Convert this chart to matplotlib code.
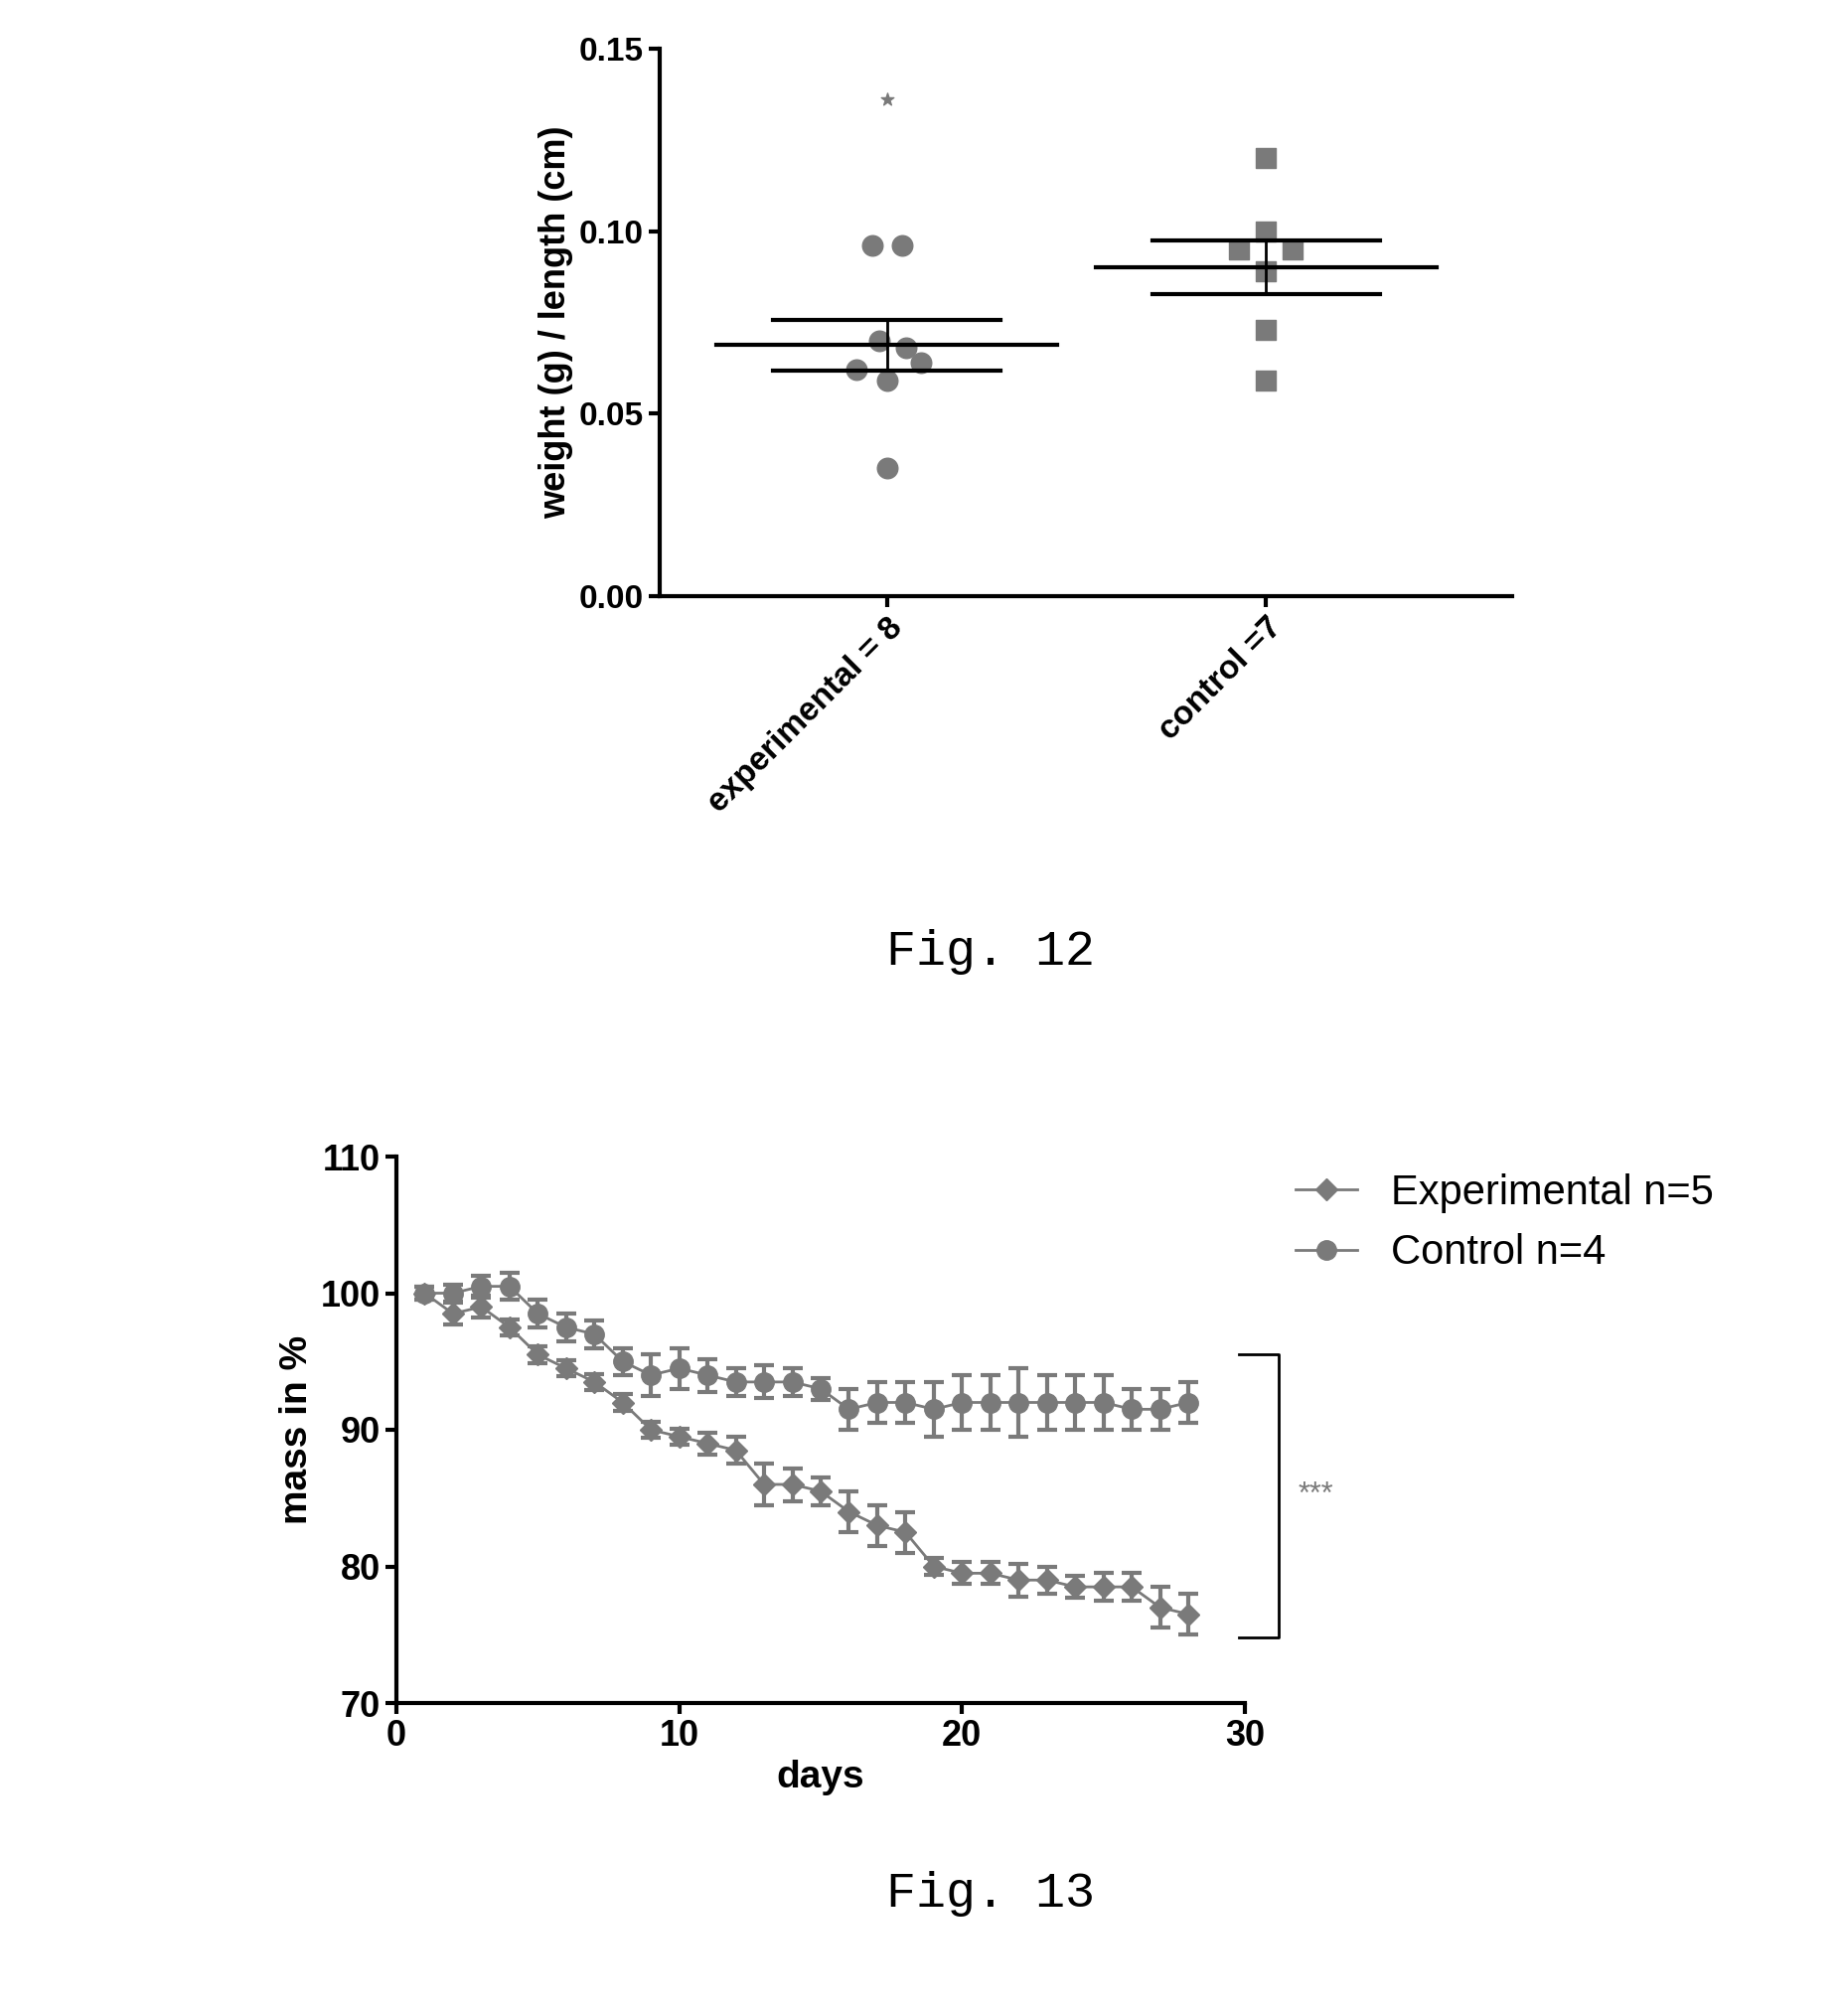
import matplotlib
matplotlib.use("Agg")
import matplotlib.pyplot as plt
from matplotlib.lines import Line2D
import numpy as np

plt.rcParams['font.family'] = ['Liberation Sans', 'DejaVu Sans']

exp_vals = [0.096, 0.096, 0.070, 0.068, 0.064, 0.062, 0.059, 0.035]
exp_outlier = [0.136]
ctl_vals = [0.120, 0.100, 0.095, 0.095, 0.089, 0.073, 0.059]
groups = ["experimental = 8", "control =7"]

days = list(range(1, 29))
exp_mass = [100, 98.5, 99, 97.5, 95.5, 94.5, 93.5, 92, 90, 89.5, 89, 88.5, 86, 86, 85.5, 84, 83, 82.5, 80, 79.5, 79.5, 79, 79, 78.5, 78.5, 78.5, 77, 76.5]
exp_err = [0.5, 0.8, 0.8, 0.6, 0.6, 0.6, 0.6, 0.6, 0.6, 0.6, 0.8, 1.0, 1.5, 1.2, 1.0, 1.5, 1.5, 1.5, 0.6, 0.8, 0.8, 1.2, 1.0, 0.8, 1.0, 1.0, 1.5, 1.5]
ctl_mass = [100, 100, 100.5, 100.5, 98.5, 97.5, 97, 95, 94, 94.5, 94, 93.5, 93.5, 93.5, 93, 91.5, 92, 92, 91.5, 92, 92, 92, 92, 92, 92, 91.5, 91.5, 92]
ctl_err = [0.5, 0.6, 0.8, 1.0, 1.0, 1.0, 1.0, 1.0, 1.5, 1.5, 1.2, 1.0, 1.2, 1.0, 0.8, 1.5, 1.5, 1.5, 2.0, 2.0, 2.0, 2.5, 2.0, 2.0, 2.0, 1.5, 1.5, 1.5]

W, H = 1853, 2029
fig = plt.figure(figsize=(W/100, H/100), dpi=100)
gray = "#7a7a7a"

def ax_at(l, t, r, b):
    return fig.add_axes([l/W, 1-b/H, (r-l)/W, (b-t)/H])

# Fig 12
ax1 = ax_at(664, 49, 1522, 600)
ax1.set_ylim(0, 0.15)
ax1.set_xlim(-0.6, 1.65)
exp_x = [-0.04, 0.04, -0.02, 0.05, 0.09, -0.08, 0.0, 0.0]
ax1.scatter(exp_x, exp_vals, marker='o', s=220, color=gray, zorder=3)
ax1.scatter([0], exp_outlier, marker='*', s=90, color=gray, zorder=3)
ctl_x = [0, 0, -0.07, 0.07, 0, 0, 0]
ax1.scatter(ctl_x, ctl_vals, marker='s', s=220, color=gray, zorder=3) if False else None
ax1.scatter([1 + c for c in ctl_x], ctl_vals, marker='s', s=220, color=gray, zorder=3)
for i, v in enumerate([exp_vals, ctl_vals]):
    m = np.mean(v); se = np.std(v, ddof=1)/np.sqrt(len(v))
    ax1.plot([i-0.45, i+0.45], [m, m], color='black', lw=3, zorder=4)
    ax1.plot([i-0.3, i+0.3], [m+se, m+se], color='black', lw=3, zorder=4)
    ax1.plot([i-0.3, i+0.3], [m-se, m-se], color='black', lw=3, zorder=4)
    ax1.plot([i, i], [m-se, m+se], color='black', lw=2, zorder=4)
ax1.set_xticks([0, 1])
ax1.set_xticklabels(groups, rotation=45, ha='right', rotation_mode='anchor', fontsize=24, fontweight='bold')
ax1.set_yticks([0, 0.05, 0.10, 0.15])
ax1.set_yticklabels(["0.00", "0.05", "0.10", "0.15"], fontsize=24, fontweight='bold')
ax1.set_ylabel("weight (g) / length (cm)", fontsize=26, fontweight='bold')
for s in ['top', 'right']:
    ax1.spines[s].set_visible(False)
for s in ['left', 'bottom']:
    ax1.spines[s].set_linewidth(3)
ax1.tick_params(width=3, length=8)

fig.text(997/W, 1-958/H, "Fig. 12", fontsize=36, family="Liberation Mono", ha='center', va='center')

# Fig 13
ax2 = ax_at(399, 1164, 1253, 1714)
ax2.set_xlim(0, 30); ax2.set_ylim(70, 110)
ax2.errorbar(days, exp_mass, yerr=exp_err, marker='D', ms=11, color=gray, mec=gray,
             ecolor=gray, elinewidth=3, capsize=7, capthick=3, lw=2, zorder=3)
ax2.errorbar(days, ctl_mass, yerr=ctl_err, marker='o', ms=14, color=gray, mec=gray,
             ecolor=gray, elinewidth=3, capsize=7, capthick=3, lw=2, zorder=3)
ax2.set_xticks([0, 10, 20, 30])
ax2.set_yticks([70, 80, 90, 100, 110])
ax2.tick_params(labelsize=26, width=3, length=8)
for lab in ax2.get_xticklabels() + ax2.get_yticklabels():
    lab.set_fontweight('bold')
ax2.set_xlabel("days", fontsize=28, fontweight='bold')
ax2.set_ylabel("mass in %", fontsize=28, fontweight='bold')
for s in ['top', 'right']:
    ax2.spines[s].set_visible(False)
for s in ['left', 'bottom']:
    ax2.spines[s].set_linewidth(3)
handles = [Line2D([], [], color=gray, marker='D', ms=11, lw=2),
           Line2D([], [], color=gray, marker='o', ms=14, lw=2)]
ax2.legend(handles, ["Experimental n=5", "Control n=4"], loc='upper left',
           bbox_to_anchor=(1.04, 1.0), frameon=False, fontsize=30,
           handlelength=1.5, borderaxespad=0)
ax2.plot([29.8, 31.2, 31.2, 29.8], [95.5, 95.5, 74.8, 74.8], color='black', lw=2, clip_on=False)
ax2.text(32.5, 85.2, "***", fontsize=22, color=gray, ha='center', va='center')

fig.text(997/W, 1-1906/H, "Fig. 13", fontsize=36, family="Liberation Mono", ha='center', va='center')

fig.savefig("out.png", dpi=100, facecolor='white')
